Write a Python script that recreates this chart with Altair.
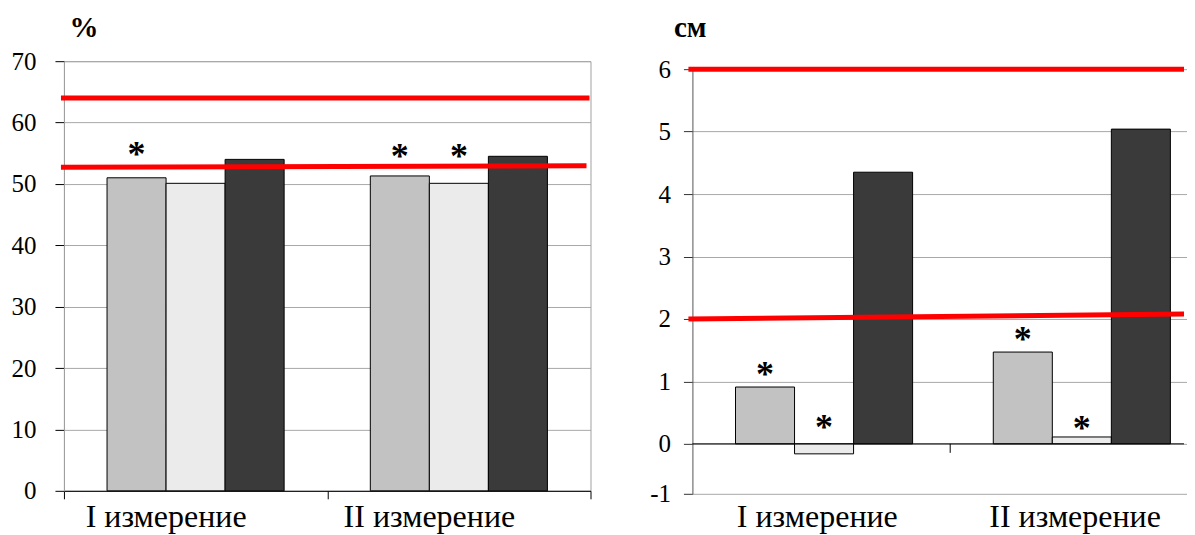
import altair as alt
import pandas as pd

# ---------------- data ----------------
groups = ["I измерение", "II измерение"]
series = ["a", "b", "c"]
fills = ["#c2c2c2", "#ebebeb", "#3a3a3a"]

bar_group = ["I измерение", "I измерение", "I измерение",
             "II измерение", "II измерение", "II измерение"]
bar_series = ["a", "b", "c", "a", "b", "c"]
left_values = [51.0, 50.1, 54.0, 51.3, 50.1, 54.5]
right_values = [0.91, -0.2, 4.35, 1.47, 0.11, 5.04]

left_star_group = ["I измерение", "II измерение", "II измерение"]
left_star_series = ["a", "a", "b"]
left_star_y = [55.3, 55.0, 55.0]

right_star_group = ["I измерение", "I измерение", "II измерение", "II измерение"]
right_star_series = ["a", "b", "a", "b"]
right_star_y = [1.17, 0.32, 1.73, 0.30]

left_red_upper = [64.0, 64.0]
left_red_lower = [52.7, 52.95]
right_red_upper = [6.0, 6.0]
right_red_lower = [2.0, 2.08]

left_ticks = [0, 10, 20, 30, 40, 50, 60, 70]
right_ticks = [-1, 0, 1, 2, 3, 4, 5, 6]

FONT = "Liberation Serif, Times New Roman, Times, serif"
W1, H1 = 527, 430
W2, H2 = 492, 433
LABEL_Y = 466  # baseline of the category labels below the right panel

# ---------------- left panel ----------------
bars_l = pd.DataFrame({"g": bar_group, "s": bar_series, "v": left_values})
stars_l = pd.DataFrame({"g": left_star_group, "s": left_star_series, "v": left_star_y})

xs_l = alt.Scale(domain=groups, paddingInner=0, paddingOuter=0)
xo = alt.Scale(domain=series, paddingInner=0, paddingOuter=0.73)
ys_l = alt.Scale(domain=[0, 70], nice=False, zero=False)
col = alt.Scale(domain=series, range=fills)

xax_l = alt.Axis(title=None, tickBand="extent", labelAngle=0,
                 domainColor="black", tickColor="black", tickSize=8,
                 labelFont=FONT, labelFontSize=32, labelColor="black",
                 labelBaseline="alphabetic", labelPadding=28, labelOffset=-30,
                 grid=False)
yax_l = alt.Axis(values=left_ticks, title="%", titleAngle=0,
                 titleX=5, titleY=-48, titleAlign="left",
                 titleBaseline="top", titleFont=FONT,
                 titleFontSize=29, titleFontWeight="bold", titleColor="black",
                 domainColor="#a0a0a0", tickColor="black", tickSize=9,
                 gridColor="#a8a8a8", labelFont=FONT, labelFontSize=25,
                 labelColor="black", labelPadding=19)

X_l = lambda **kw: alt.X("g:N", scale=xs_l, sort=groups, axis=xax_l, **kw)
Y_l = lambda: alt.Y("v:Q", scale=ys_l, axis=yax_l)

bar_left = alt.Chart(bars_l).mark_bar(stroke="black", strokeWidth=1).encode(
    x=X_l(),
    xOffset=alt.XOffset("s:N", scale=xo, sort=series),
    y=Y_l(),
    color=alt.Color("s:N", scale=col, legend=None),
)

star_left = alt.Chart(stars_l).mark_text(
    text="*", font=FONT, fontSize=36, fontWeight="bold", baseline="middle", dy=4,
    color="black").encode(
    x=X_l(),
    xOffset=alt.XOffset("s:N", scale=xo, sort=series),
    y=Y_l(),
)

red_l1 = alt.Chart(pd.DataFrame({"v": [left_red_upper[0]], "v2": [left_red_upper[1]]})).mark_rule(
    color="#ff0000", strokeWidth=5).encode(
    x=alt.value(-3), x2=alt.value(W1 - 1), y=Y_l(), y2="v2:Q")
red_l2 = alt.Chart(pd.DataFrame({"v": [left_red_lower[0]], "v2": [left_red_lower[1]]})).mark_rule(
    color="#ff0000", strokeWidth=5).encode(
    x=alt.value(-3), x2=alt.value(W1 - 4), y=Y_l(), y2="v2:Q")

left = alt.layer(bar_left, red_l1, red_l2, star_left).properties(
    width=W1, height=H1, view=alt.ViewBackground(stroke="#a0a0a0", strokeWidth=1))

# ---------------- right panel ----------------
bars_r = pd.DataFrame({"g": bar_group, "s": bar_series, "v": right_values})
stars_r = pd.DataFrame({"g": right_star_group, "s": right_star_series, "v": right_star_y})

xs_r = alt.Scale(domain=groups, range=[0, 516], paddingInner=0, paddingOuter=0)
ys_r = alt.Scale(domain=[-1, 0, 6], range=[H2, H2 - 50, 8], nice=False, zero=False)

yax_r = alt.Axis(values=right_ticks, title="см", titleAngle=0,
                 titleX=-19, titleY=-48, titleAlign="left",
                 titleBaseline="top", titleFont=FONT,
                 titleFontSize=29, titleFontWeight="bold", titleColor="black",
                 domainColor="#555555", tickColor="#333333", tickSize=9,
                 gridColor="#a8a8a8", labelFont=FONT, labelFontSize=25,
                 labelColor="black", labelPadding=13,
                 labelExpr="replace(datum.label, '\u2212', '-')")

X_r = lambda **kw: alt.X("g:N", scale=xs_r, sort=groups, axis=None, **kw)
Y_r = lambda: alt.Y("v:Q", scale=ys_r, axis=yax_r)

bar_right = alt.Chart(bars_r).mark_bar(stroke="black", strokeWidth=1).encode(
    x=X_r(),
    xOffset=alt.XOffset("s:N", scale=xo, sort=series),
    y=Y_r(),
    color=alt.Color("s:N", scale=col, legend=None),
)

zero_r = alt.Chart(pd.DataFrame({"v": [0.0]})).mark_rule(
    color="black", strokeWidth=1).encode(
    y=Y_r(), x=alt.value(0), x2=alt.value(W2))

sep_r = alt.Chart(pd.DataFrame({"g": ["II измерение"], "v": [0.0], "v2": [-0.18]})).mark_rule(
    color="black", strokeWidth=1).encode(
    x=X_r(bandPosition=0), y=Y_r(), y2="v2:Q")

labels_r = alt.Chart(pd.DataFrame({"g": groups})).mark_text(
    font=FONT, fontSize=32, baseline="alphabetic", color="black", dx=-4).encode(
    x=X_r(), y=alt.value(LABEL_Y), text="g:N")

star_right = alt.Chart(stars_r).mark_text(
    text="*", font=FONT, fontSize=36, fontWeight="bold", baseline="middle", dy=4,
    color="black").encode(
    x=X_r(),
    xOffset=alt.XOffset("s:N", scale=xo, sort=series),
    y=Y_r(),
)

red_r1 = alt.Chart(pd.DataFrame({"v": [right_red_upper[0]], "v2": [right_red_upper[1]]})).mark_rule(
    color="#ff0000", strokeWidth=5).encode(
    x=alt.value(-4), x2=alt.value(W2), y=Y_r(), y2="v2:Q")
red_r2 = alt.Chart(pd.DataFrame({"v": [right_red_lower[0]], "v2": [right_red_lower[1]]})).mark_rule(
    color="#ff0000", strokeWidth=5).encode(
    x=alt.value(-4), x2=alt.value(W2), y=Y_r(), y2="v2:Q")

right = alt.layer(bar_right, zero_r, sep_r, red_r1, red_r2, star_right, labels_r).properties(
    width=W2, height=H2, view=alt.ViewBackground(stroke=None))

chart = alt.hconcat(left, right, spacing=57).properties(
    padding={"left": 2, "top": 4, "right": 0, "bottom": 0}
).configure(font=FONT).configure_view(stroke=None)

chart.save("out.html", embed_options={"renderer": "svg", "actions": False})
